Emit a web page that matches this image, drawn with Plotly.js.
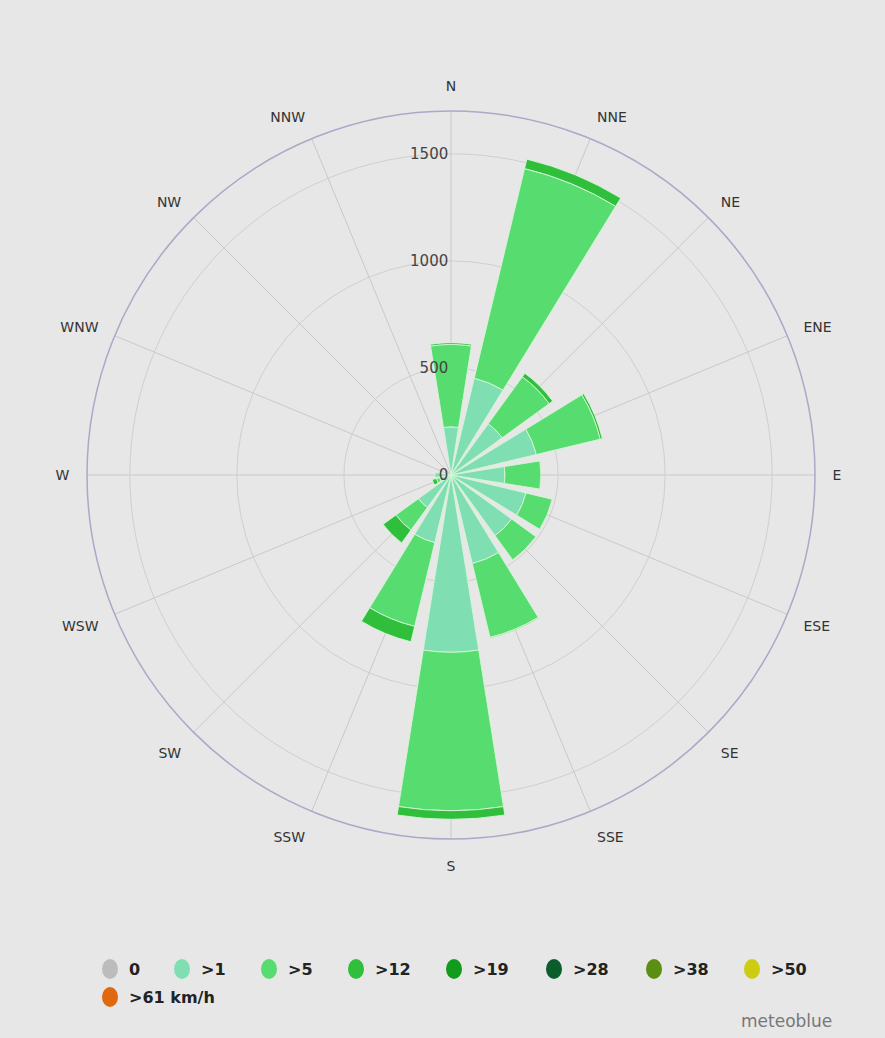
<!DOCTYPE html>
<html><head><meta charset="utf-8">
<script src="https://cdn.plot.ly/plotly-3.0.1.min.js"></script>
<style>html,body{margin:0;padding:0;background:#e7e7e7;} #chart{width:885px;height:1038px;}</style>
</head><body><div id="chart"></div>
<script>
// Wind directions (categories)
const directions = ['N','NNE','NE','ENE','E','ESE','SE','SSE','S','SSW','SW','WSW','W','WNW','NW','NNW'];
// Hours per speed class (stacked)
const speedOver1  = [225, 465, 296, 410, 252, 360, 350, 425, 828, 325, 188, 55, 75, 0, 0, 0];
const speedOver5  = [385, 1007, 271, 307, 168, 126, 140, 355, 740, 402, 130, 15, 0, 0, 0, 0];
const speedOver12 = [8, 45, 20, 10, 0, 0, 0, 4, 40, 74, 74, 20, 0, 0, 0, 0];
// Legend
const legendLabels = ['0', '>1', '>5', '>12', '>19', '>28', '>38', '>50', '>61 km/h'];
const legendColors = ['#bcbcbc', '#7fdfb2', '#57dc6f', '#2fbf3b', '#129c1e', '#0b5e2c', '#5b8e12', '#cdcc12', '#e0680e'];
const radialTicks = [0, 500, 1000, 1500];

const W = 885, H = 1038;
const cx = 451, cy = 475, R = 364;
const barWidth = 0.8; // fraction of one direction sector

const series = [speedOver1, speedOver5, speedOver12];
const traces = series.map((vals, i) => ({
  type: 'barpolar',
  r: vals,
  theta: directions,
  width: barWidth,
  name: legendLabels[i + 1],
  marker: {color: legendColors[i + 1], line: {color: 'rgba(215,245,215,0.9)', width: 1}},
  showlegend: false,
  hoverinfo: 'skip'
}));

// legend layout (pixel positions of markers)
const legendX = [110, 182, 269, 356, 454, 554, 654, 752, 110];
const legendY = [969, 969, 969, 969, 969, 969, 969, 969, 997];
const shapes = legendLabels.map((l, i) => ({
  type: 'circle', xref: 'paper', yref: 'paper',
  xsizemode: 'pixel', ysizemode: 'pixel',
  xanchor: legendX[i] / W, yanchor: 1 - legendY[i] / H,
  x0: -8, x1: 8, y0: -10, y1: 10,
  fillcolor: legendColors[i], line: {width: 0}
}));
const annotations = legendLabels.map((l, i) => ({
  text: l, xref: 'paper', yref: 'paper',
  x: (legendX[i] + 17) / W, y: 1 - legendY[i] / H,
  xanchor: 'left', yanchor: 'middle', showarrow: false,
  font: {family: 'DejaVu Sans', size: 16, color: '#222', weight: 'bold'}
}));
annotations.push({
  text: 'meteoblue', xref: 'paper', yref: 'paper',
  x: 834 / W, y: 1 - 1021 / H, xanchor: 'right', yanchor: 'middle', showarrow: false,
  font: {family: 'DejaVu Sans', size: 17, color: '#777'}
});

const layout = {
  width: W, height: H,
  margin: {l: 0, r: 0, t: 0, b: 0},
  paper_bgcolor: '#e7e7e7',
  showlegend: false,
  polar: {
    domain: {x: [(cx - R) / W, (cx + R) / W], y: [1 - (cy + R) / H, 1 - (cy - R) / H]},
    bgcolor: '#e7e7e7',
    barmode: 'stack',
    angularaxis: {
      type: 'category', categoryorder: 'array', categoryarray: directions,
      rotation: 90, direction: 'clockwise',
      showline: true, linecolor: '#a9a9c8', linewidth: 1.5,
      showgrid: true, gridcolor: '#c9c9c9', gridwidth: 1,
      ticks: 'outside', ticklen: 14, tickcolor: 'rgba(0,0,0,0)',
      tickfont: {family: 'DejaVu Sans', size: 14, color: '#333'}
    },
    radialaxis: {
      range: [0, 1700], tickvals: radialTicks, ticktext: radialTicks.map(String),
      angle: 90, side: 'counterclockwise', tickangle: 90,
      showline: false, ticks: '',
      showgrid: true, gridcolor: '#cfcfcf', gridwidth: 1,
      tickfont: {family: 'DejaVu Sans', size: 15, color: '#444'}
    }
  },
  shapes: shapes,
  annotations: annotations
};

Plotly.newPlot('chart', traces, layout, {displayModeBar: false, staticPlot: true});
</script>
</body></html>
